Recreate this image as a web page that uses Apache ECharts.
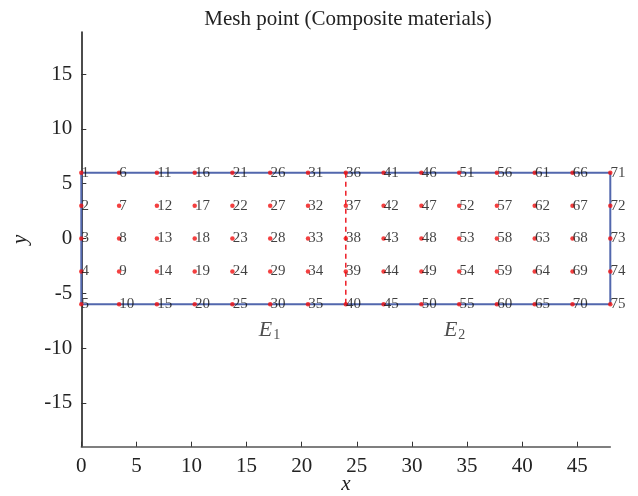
<!DOCTYPE html>
<html>
<head>
<meta charset="utf-8">
<script src="https://cdn.jsdelivr.net/npm/echarts@6/dist/echarts.min.js"></script>
<style>
  html, body { margin: 0; padding: 0; background: #fff; }
  #chart { width: 638px; height: 496px; }
</style>
</head>
<body>
<div id="chart"></div>
<script>
// Mesh node coordinates (15 columns x 5 rows), numbered column by column
const xNodes = [0, 3.43, 6.86, 10.29, 13.71, 17.14, 20.57, 24, 27.43, 30.86, 34.29, 37.71, 41.14, 44.57, 48];
const yNodes = [6, 3, 0, -3, -6];

// Outer boundary of the plate and the material interface
const boundaryX = [0, 48, 48, 0, 0];
const boundaryY = [6, 6, -6, -6, 6];
const interfaceX = [24, 24];
const interfaceY = [6, -6];

// Material region names (letter + subscript)
const regionLetters = ['E', 'E'];
const regionSubs = ['1', '2'];

// Axis tick labels
const xTicks = [0, 5, 10, 15, 20, 25, 30, 35, 40, 45];
const yTicks = [-15, -10, -5, 0, 5, 10, 15];

const serif = '"Liberation Serif", "Times New Roman", serif';

const nodes = [];
xNodes.forEach((x, i) => {
  yNodes.forEach((y, j) => {
    nodes.push({ value: [x, y], name: String(i * yNodes.length + j + 1) });
  });
});

const boundary = boundaryX.map((x, i) => [x, boundaryY[i]]);
const iface = interfaceX.map((x, i) => [x, interfaceY[i]]);

// anchor points for the region names, below the plate
const regionAnchors = [[16.1, -8.4], [32.9, -8.4]];
const regions = regionLetters.map((l, i) => ({
  value: regionAnchors[i],
  label: { formatter: '{e|' + l + '}{s|' + regionSubs[i] + '}' }
}));

const chart = echarts.init(document.getElementById('chart'), null, { renderer: 'canvas' });

chart.setOption({
  animation: false,
  backgroundColor: '#ffffff',
  title: {
    text: 'Mesh point (Composite materials)',
    left: 343,
    textAlign: 'center',
    top: 4,
    textStyle: { fontFamily: serif, fontSize: 21, fontWeight: 'normal', color: '#222' }
  },
  grid: { left: 81.3, right: 27.7, top: 32, bottom: 49.3, containLabel: false, outerBoundsMode: 'none' },
  xAxis: {
    type: 'value',
    min: 0,
    max: 48,
    name: 'x',
    nameLocation: 'middle',
    nameGap: 27,
    nameMoveOverlap: false,
    nameTextStyle: { fontFamily: serif, fontSize: 21, fontStyle: 'italic', color: '#222' },
    axisLine: { show: true, onZero: false, lineStyle: { color: '#555', width: 1.5 } },
    axisTick: { show: true, inside: true, length: 5, customValues: xTicks, lineStyle: { color: '#333', width: 1 } },
    axisLabel: { customValues: xTicks, margin: 9, fontFamily: serif, fontSize: 21, color: '#222' },
    splitLine: { show: false }
  },
  yAxis: {
    type: 'value',
    min: -19,
    max: 18.85,
    name: 'y',
    nameLocation: 'middle',
    nameRotate: 90,
    nameGap: 50,
    nameMoveOverlap: false,
    nameTextStyle: { fontFamily: serif, fontSize: 21, fontStyle: 'italic', color: '#222' },
    axisLine: { show: true, onZero: false, lineStyle: { color: '#111', width: 1.5 } },
    axisTick: { show: true, inside: true, length: 5, customValues: yTicks, lineStyle: { color: '#333', width: 1 } },
    axisLabel: { customValues: yTicks, margin: 9, fontFamily: serif, fontSize: 21, color: '#222' },
    splitLine: { show: false }
  },
  series: [
    {
      type: 'line',
      data: boundary,
      symbol: 'none',
      z: 1,
      lineStyle: { color: '#5267ad', width: 2 }
    },
    {
      type: 'line',
      data: iface,
      symbol: 'none',
      z: 2,
      lineStyle: { color: '#ee1c25', width: 1.5, type: [5, 4] }
    },
    {
      type: 'scatter',
      data: nodes,
      symbol: 'circle',
      symbolSize: 4.5,
      z: 3,
      itemStyle: { color: '#f01010' },
      label: {
        show: true,
        position: 'right',
        distance: -2,
        formatter: p => p.name,
        fontFamily: serif,
        fontSize: 15,
        color: '#111'
      }
    },
    {
      type: 'scatter',
      data: regions,
      symbolSize: 0,
      z: 4,
      label: {
        show: true,
        position: 'inside',
        align: 'left',
        rich: {
          e: { fontFamily: serif, fontSize: 22, fontStyle: 'italic', color: '#222' },
          s: { fontFamily: serif, fontSize: 14, color: '#222', padding: [10, 0, 0, 1] }
        }
      }
    }
  ]
});
</script>
</body>
</html>
